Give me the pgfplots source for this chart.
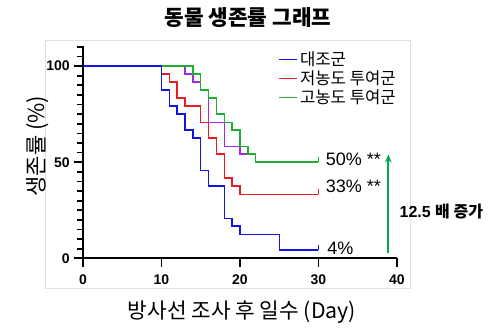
\documentclass[border=0pt]{standalone}
\usepackage{fontspec}
\setmainfont{Liberation Sans}
\newfontfamily\kr{Noto Sans CJK KR}
\usepackage{pgfplots}
\pgfplotsset{compat=1.18}
\usetikzlibrary{arrows.meta}
\definecolor{cblue}{RGB}{20,20,225}
\definecolor{cred}{RGB}{230,30,35}
\definecolor{cgreen}{RGB}{30,175,50}
\definecolor{cpurple}{RGB}{165,40,225}
\definecolor{carrow}{RGB}{0,170,80}
\pgfdeclareplotmark{cens}{\pgfpathmoveto{\pgfpointorigin}\pgfpathlineto{\pgfpoint{0pt}{3.75pt}}\pgfusepathqstroke}
\pgfdeclareplotmark{ytk}{\pgfpathmoveto{\pgfpoint{0.5pt}{0pt}}\pgfpathlineto{\pgfpoint{-4.5pt}{0pt}}\pgfusepathqstroke}
\begin{document}
\begin{tikzpicture}
\useasboundingbox (-62.25pt,-56pt) rectangle (312.75pt,193.7pt);
\draw[black!12, line width=0.75pt] (-27.75pt,-22.3pt) rectangle (245.25pt,163pt);
\begin{axis}[at={(0pt,0pt)}, anchor=south west, scale only axis,
  width=235.5pt, height=158.5pt,
  xmin=0, xmax=40, ymin=0, ymax=110,
  axis x line*=bottom, axis y line*=left, axis line style={line width=1.5pt},
  xtick={0,10,20,30,40}, ytick={0,50,100},
  tick align=outside, major tick length=6.5pt,
  major tick style={black, line width=1.3pt},
  tick label style={font=\fontsize{10.5}{12}\selectfont\bfseries},
  xticklabel style={yshift=-2pt},
  /pgf/number format/assume math mode=true,
  clip=false,
  legend cell align=left,
  legend image code/.code={\draw[#1,line width=1.1pt] (0pt,0.3pt) -- (13.5pt,0.3pt);},
  legend style={draw=none, fill=none, at={(146pt,157pt)}, anchor=north west,
    font=\kr\fontsize{12.5}{14}\selectfont, inner sep=0pt, row sep=-1.5pt,
    /tikz/every even column/.append style={column sep=0pt}},
]
% purple (mostly hidden curve)
\addplot[cpurple, line width=1.1pt, const plot, forget plot] coordinates {
(0,100) (13,95.8) (14,91.7) (15,87.5) (16,70.8) (18,58.3) (20,54.2) (22,50) (30,50)};
% control
\addplot[cblue, line width=1.1pt, const plot] coordinates {
(0,100) (10,87.5) (11,79.2) (12,75) (13,66.7) (14,62.5) (15,45.8) (16,37.5) (18,20.8) (19,16.7) (20,12.5) (25,4.2) (30,4.2)};
\addlegendentry{대조군}
% low dose
\addplot[cred, line width=1.1pt, const plot] coordinates {
(0,100) (10,95.8) (11,91.7) (12,83.3) (13,79.2) (15,70.8) (16,62.5) (17,54.2) (18,41.7) (19,37.5) (20,33.3) (30,33.3)};
\addlegendentry{저농도 투여군}
% high dose
\addplot[cgreen, line width=1.1pt, const plot] coordinates {
(0,100) (14,95.8) (15,87.5) (16,83.3) (17,75) (18,70.8) (19,66.7) (20,58.3) (21,54.2) (22,50) (30,50)};
\addlegendentry{고농도 투여군}
% control redrawn on top
\addplot[cblue, line width=1.1pt, const plot, forget plot] coordinates {
(0,100) (10,87.5) (11,79.2) (12,75) (13,66.7) (14,62.5) (15,45.8) (16,37.5) (18,20.8) (19,16.7) (20,12.5) (25,4.2) (30,4.2)};
% censor ticks at end
\addplot[cgreen, line width=1.1pt, only marks, mark=cens, forget plot] coordinates {(30,50)};
\addplot[cred, line width=1.1pt, only marks, mark=cens, forget plot] coordinates {(30,33.3)};
\addplot[cblue, line width=1.1pt, only marks, mark=cens, forget plot] coordinates {(30,4.2)};
% minor y ticks (axis decoration)
\addplot[black, line width=1.3pt, only marks, mark=ytk, forget plot] coordinates {
(0,5) (0,10) (0,15) (0,20) (0,25) (0,30) (0,35) (0,40) (0,45) (0,55) (0,60) (0,65) (0,70) (0,75) (0,80) (0,85) (0,90) (0,95) (0,105) (0,110)};
% annotations
\node[anchor=west, inner sep=0pt, font=\fontsize{13.5}{15}\selectfont] at (axis cs:30.9,51.5) {50\% **};
\node[anchor=west, inner sep=0pt, font=\fontsize{13.5}{15}\selectfont] at (axis cs:30.9,37.3) {33\% **};
\node[anchor=west, inner sep=0pt, font=\fontsize{13.5}{15}\selectfont] at (axis cs:31.1,5.4) {4\%};
\draw[carrow, line width=1.3pt, -{Stealth[length=6pt,width=5pt]}] (axis cs:38.9,2.8) -- (axis cs:38.9,54);
\node[anchor=west, inner sep=0pt, font=\fontsize{12}{14}\selectfont\bfseries] at (axis cs:40.3,24.6) {12.5 {\kr\bfseries 배 증가}};
\end{axis}
\node[font=\kr\bfseries\fontsize{16}{18}\selectfont] at (123.75pt,180.2pt) {동물 생존률 그래프};
\node[font=\kr\fontsize{16.5}{18}\selectfont, rotate=90] at (-33.75pt,84.2pt) {생존률 (\%)};
\node[font=\kr\fontsize{16}{18}\selectfont] at (119.25pt,-40.3pt) {방사선 조사 후 일수 (Day)};
\end{tikzpicture}
\end{document}
